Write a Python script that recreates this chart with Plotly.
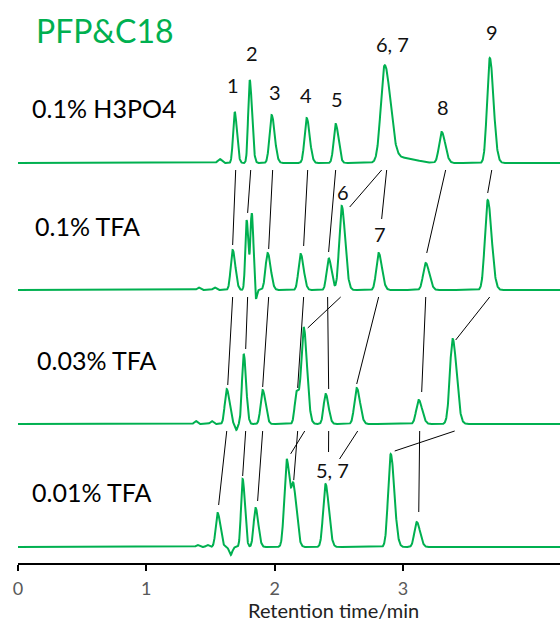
import numpy as np
import plotly.graph_objects as go

# ---------------- data ----------------
# retention times (min), peak heights (display units), peak widths (sigma, min), tailing factors
h3po4_names   = ["b", "1", "2", "3", "4", "5", "67", "67t", "8", "9"]
h3po4_times   = [1.572, 1.689, 1.806, 1.977, 2.250, 2.476, 2.858, 3.000, 3.302, 3.677]
h3po4_heights = [4, 51, 83, 48, 45, 39, 96, 5, 31, 105]
h3po4_widths  = [0.015, 0.015, 0.015, 0.020, 0.020, 0.019, 0.037, 0.10, 0.024, 0.025]
h3po4_tails   = [1.0, 1.4, 1.5, 1.4, 1.4, 1.4, 1.5, 1.0, 1.4, 1.4]

tfa01_names   = ["b1", "b2", "1", "2a", "2", "d", "3", "4", "5", "6", "7", "8", "9"]
tfa01_times   = [1.408, 1.533, 1.673, 1.782, 1.822, 1.853, 1.946, 2.203, 2.421, 2.523, 2.811, 3.178, 3.661]
tfa01_heights = [2.5, 2.5, 40, 70, 76, -13, 37, 36, 32, 84, 37, 27, 90]
tfa01_widths  = [0.012, 0.012, 0.018, 0.012, 0.012, 0.008, 0.020, 0.020, 0.019, 0.023, 0.022, 0.024, 0.026]
tfa01_tails   = [1.0, 1.0, 1.4, 1.3, 1.3, 1.0, 1.4, 1.4, 1.4, 1.4, 1.4, 1.4, 1.4]

tfa003_names   = ["b1", "b2", "1", "d", "2", "3", "4", "6", "5", "7", "8", "9"]
tfa003_times   = [1.385, 1.510, 1.627, 1.701, 1.759, 1.907, 2.172, 2.227, 2.398, 2.640, 3.123, 3.388]
tfa003_heights = [3, 3, 35, -6, 70, 34, 32, 96, 30, 36, 24, 85]
tfa003_widths  = [0.012, 0.012, 0.018, 0.010, 0.016, 0.019, 0.018, 0.022, 0.019, 0.022, 0.023, 0.026]
tfa003_tails   = [1.0, 1.0, 1.4, 1.0, 1.4, 1.4, 1.4, 1.4, 1.4, 1.4, 1.4, 1.4]

tfa001_names   = ["b1", "b2", "1", "d", "2", "3", "6", "4", "57", "9", "8"]
tfa001_times   = [1.400, 1.478, 1.556, 1.658, 1.751, 1.852, 2.094, 2.149, 2.397, 2.905, 3.108]
tfa001_heights = [2, 2, 34, -8, 68, 39, 88, 54, 63, 93, 25]
tfa001_widths  = [0.012, 0.012, 0.018, 0.012, 0.015, 0.018, 0.022, 0.020, 0.022, 0.024, 0.022]
tfa001_tails   = [1.0, 1.0, 1.4, 1.0, 1.4, 1.4, 1.4, 1.5, 1.4, 1.4, 1.4]

conditions = ["0.1% H3PO4", "0.1% TFA", "0.03% TFA", "0.01% TFA"]
x_ticks = [0, 1, 2, 3]

# peak labels: (trace, peak, text)
peak_labels = [
    (0, "1", "1"), (0, "2", "2"), (0, "3", "3"), (0, "4", "4"), (0, "5", "5"),
    (0, "67", "6, 7"), (0, "8", "8"), (0, "9", "9"),
    (1, "6", "6"), (1, "7", "7"),
    (3, "57", "5, 7"),
]
# peak tracking links: (upper trace, peak, lower trace, peak)
links = [
    (0, "1", 1, "1"), (0, "2", 1, "2a"), (0, "3", 1, "3"), (0, "4", 1, "4"), (0, "5", 1, "5"),
    (0, "67", 1, "6"), (0, "67", 1, "7"), (0, "8", 1, "8"), (0, "9", 1, "9"),
    (1, "1", 2, "1"), (1, "2a", 2, "2"), (1, "3", 2, "3"), (1, "4", 2, "4"), (1, "5", 2, "5"),
    (1, "6", 2, "6"), (1, "7", 2, "7"), (1, "8", 2, "8"), (1, "9", 2, "9"),
    (2, "1", 3, "1"), (2, "2", 3, "2"), (2, "3", 3, "3"), (2, "6", 3, "6"), (2, "4", 3, "4"),
    (2, "5", 3, "57"), (2, "7", 3, "57"), (2, "9", 3, "9"), (2, "8", 3, "8"),
]

# ---------------- layout / styling parameters ----------------
W, H = 560, 623
ML = 18
PX = 128.3                      # pixels per minute
AXIS_PY = 563                   # page y of the x-axis line
PLOT_H = AXIS_PY                # plot area height in px (y units = px)
MB = H - PLOT_H
baselines_py = [163, 290, 424, 547]
label_shift = {  # (dx px, dy px above apex)
    (0, "1"): (-2, 27), (0, "2"): (2, 27), (0, "3"): (3, 23), (0, "4"): (-1, 23),
    (0, "5"): (1, 25), (0, "67"): (8, 21), (0, "8"): (1, 25), (0, "9"): (2, 26),
    (1, "6"): (1, 14), (1, "7"): (1, 19), (3, "57"): (7, 14),
}
link_shift = [  # start dx px, end dx px, end dy px (above apex)
    (1, 0, 5), (1, 1, 7), (1, 1, 4), (1, 3, 8), (0, 0, 6), (-3, 8, -1), (2, 3, 34), (4, 1, 10), (2, 0, 7),
    (0, 1, 4), (1, 2, 5), (1, 0, 3), (3, 1, 3), (-1, 3, 5), (-1, 4, -1), (0, 0, 4), (0, 3, 8), (2, 3, -1),
    (0, 1, 8), (2, 0, 3), (0, 2, 7), (1, 4, 5), (1, 0, 4), (3, 3, 32), (1, 14, 25), (2, 4, 3), (1, 2, 10),
]
cond_pos = [(30, 108), (33, 226), (35, 360), (30, 492)]
GREEN = "#00B050"
FONT_LBL = "Lato"


def px_to_t(px):
    return (px - ML) / PX


def py_to_y(py):
    return PLOT_H - py


series = [
    (h3po4_names, h3po4_times, h3po4_heights, h3po4_widths, h3po4_tails),
    (tfa01_names, tfa01_times, tfa01_heights, tfa01_widths, tfa01_tails),
    (tfa003_names, tfa003_times, tfa003_heights, tfa003_widths, tfa003_tails),
    (tfa001_names, tfa001_times, tfa001_heights, tfa001_widths, tfa001_tails),
]

x_max = (W - ML) / PX
t = np.linspace(0, x_max, 2600)


def peak(tt, t0, h, s, tail):
    sl = s * 2 / (1 + tail)
    sig = np.where(tt < t0, sl, sl * tail)
    return h * np.exp(-0.5 * ((tt - t0) / sig) ** 2)


def signal(k, tt):
    names, times, heights, widths, tails = series[k]
    base = py_to_y(baselines_py[k])
    y = np.full(np.shape(tt), base, dtype=float)
    for t0, h, s, tl in zip(times, heights, widths, tails):
        y = y + peak(tt, t0, h, s, tl)
    return y


def peak_time(k, name):
    return series[k][1][series[k][0].index(name)]


fig = go.Figure()
for k in range(4):
    fig.add_trace(go.Scatter(x=t, y=signal(k, t), mode="lines",
                             line=dict(color=GREEN, width=2), hoverinfo="skip",
                             showlegend=False))

# tracking lines
lx, ly = [], []
for (ku, pu, kl, pl), (sdx, edx, edy) in zip(links, link_shift):
    tu = peak_time(ku, pu)
    tl = peak_time(kl, pl)
    y_start = py_to_y(baselines_py[ku]) - 7
    apex = float(signal(kl, np.array([tl]))[0])
    lx += [tu + sdx / PX, tl + edx / PX, None]
    ly += [y_start, apex + edy, None]
fig.add_trace(go.Scatter(x=lx, y=ly, mode="lines", line=dict(color="black", width=1),
                         hoverinfo="skip", showlegend=False))

ann = []
for k, p, txt in peak_labels:
    tp = peak_time(k, p)
    apex = float(signal(k, np.array([tp]))[0])
    dx, dy = label_shift[(k, p)]
    ann.append(dict(x=tp, y=apex, text=txt, showarrow=False, xshift=dx, yshift=dy,
                    xanchor="center", yanchor="middle",
                    font=dict(family=FONT_LBL, size=20, color="#111111")))

for txt, (px_, py_) in zip(conditions, cond_pos):
    ann.append(dict(x=px_to_t(px_), y=py_to_y(py_), text=txt, showarrow=False,
                    xanchor="left", yanchor="middle",
                    font=dict(family=FONT_LBL, size=25, color="black")))

ann.append(dict(x=px_to_t(34), y=py_to_y(30), text="PFP&C18", showarrow=False,
                xanchor="left", yanchor="middle",
                font=dict(family=FONT_LBL, size=32, color=GREEN)))
ann.append(dict(x=px_to_t(333), xref="x", y=py_to_y(610) / PLOT_H, yref="paper",
                text="Retention time/min", showarrow=False, xanchor="center", yanchor="middle",
                font=dict(family=FONT_LBL, size=20, color="#222222")))

fig.update_layout(
    width=W, height=H, margin=dict(l=ML, r=0, t=0, b=MB),
    paper_bgcolor="white", plot_bgcolor="white",
    annotations=ann,
    xaxis=dict(range=[0, x_max], tickvals=x_ticks, ticktext=[str(v) for v in x_ticks],
               showline=True, linecolor="black", linewidth=1.5, ticks="outside",
               ticklen=6, tickwidth=1.5, tickcolor="black", showgrid=False, zeroline=False,
               tickfont=dict(family=FONT_LBL, size=18, color="#595959"),
               ticklabelstandoff=3),
    yaxis=dict(range=[0, PLOT_H], visible=False, showgrid=False, zeroline=False),
)
fig.write_html("out.html", config={"displayModeBar": False},
               post_script="document.body.style.margin='0';document.body.style.overflow='hidden';")
